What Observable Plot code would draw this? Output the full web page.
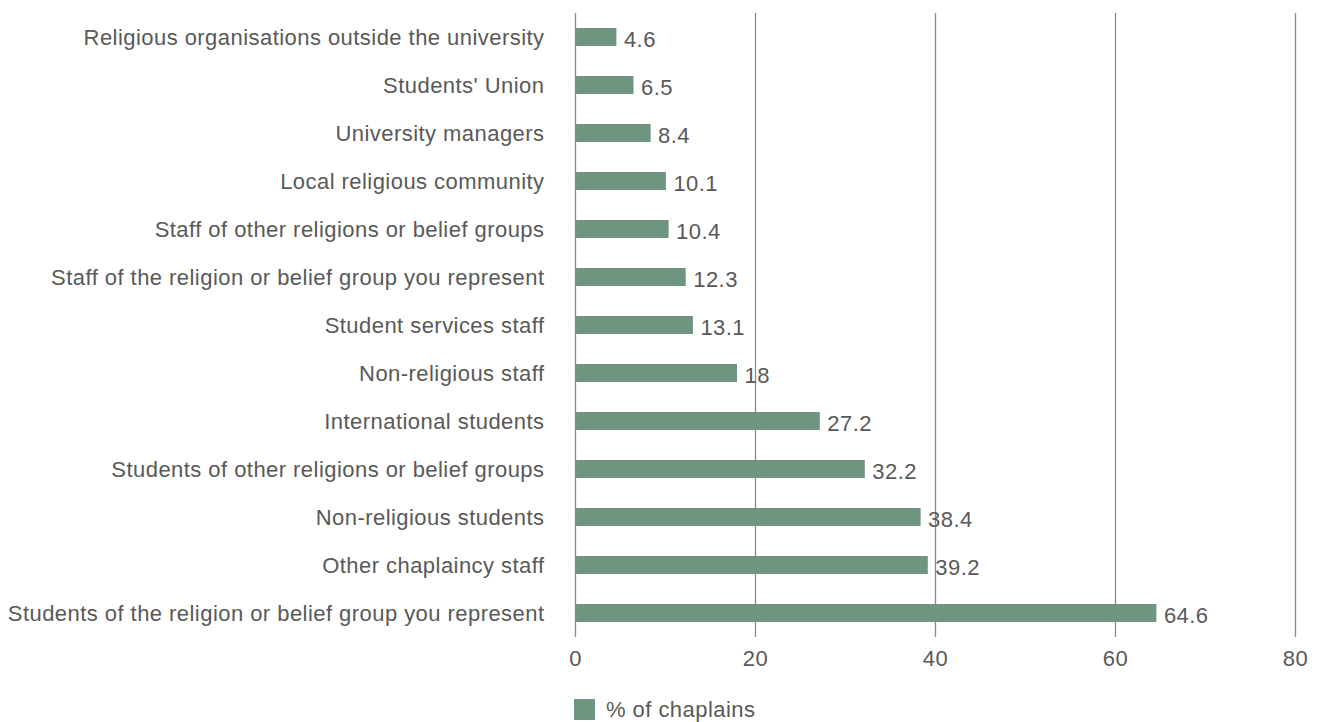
<!DOCTYPE html>
<html>
<head>
<meta charset="utf-8">
<script src="https://cdn.jsdelivr.net/npm/d3@7"></script>
<script src="https://cdn.jsdelivr.net/npm/@observablehq/plot@0.6"></script>
<style>
  body { margin: 0; background: #fff; font-family: "Liberation Sans", Arial, sans-serif; }
  #legend { margin-left: 574px; margin-top: 16px; }
  #chart svg text { letter-spacing: 0.45px; }
</style>
</head>
<body>
<div id="chart"></div>
<div id="legend"></div>
<script>
const categories = [
  "Religious organisations outside the university",
  "Students' Union",
  "University managers",
  "Local religious community",
  "Staff of other religions or belief groups",
  "Staff of the religion or belief group you represent",
  "Student services staff",
  "Non-religious staff",
  "International students",
  "Students of other religions or belief groups",
  "Non-religious students",
  "Other chaplaincy staff",
  "Students of the religion or belief group you represent"
];
const values = [4.6, 6.5, 8.4, 10.1, 10.4, 12.3, 13.1, 18, 27.2, 32.2, 38.4, 39.2, 64.6];
const xTicks = [0, 20, 40, 60, 80];
const seriesName = "% of chaplains";
const barColor = "#6e9580";
const textColor = "#595959";

const data = categories.map((c, i) => ({category: c, value: values[i]}));

const chart = Plot.plot({
  width: 1324,
  height: 677,
  marginLeft: 575,
  marginRight: 29,
  marginTop: 13,
  marginBottom: 40,
  style: {fontFamily: '"Liberation Sans", Arial, sans-serif', fontSize: "22px", color: textColor, background: "#fff"},
  x: {domain: [0, 80], ticks: xTicks, label: null},
  y: {domain: categories, label: null, paddingInner: 0.625, paddingOuter: 0.31},
  marks: [
    Plot.gridX(xTicks, {stroke: "#8a8a8a", strokeOpacity: 1, strokeWidth: 1.3}),
    Plot.barX(data, {x: "value", y: "category", fill: barColor}),
    Plot.text(data, {x: "value", y: "category", text: d => String(d.value), textAnchor: "start", dx: 7, dy: 2.5, fill: textColor, fontSize: 22}),
    Plot.axisX(xTicks, {tickSize: 0, tickPadding: 13, fontSize: 22, fill: textColor, label: null}),
    Plot.axisY({tickSize: 0, tickPadding: 31, fontSize: 22, fill: textColor, label: null})
  ]
});
document.getElementById("chart").appendChild(chart);

const legend = Plot.legend({
  color: {type: "ordinal", domain: [seriesName], range: [barColor]},
  swatchSize: 21,
  style: {fontFamily: '"Liberation Sans", Arial, sans-serif', fontSize: "22px", color: textColor, letterSpacing: "0.45px"}
});
document.getElementById("legend").appendChild(legend);
</script>
</body>
</html>
